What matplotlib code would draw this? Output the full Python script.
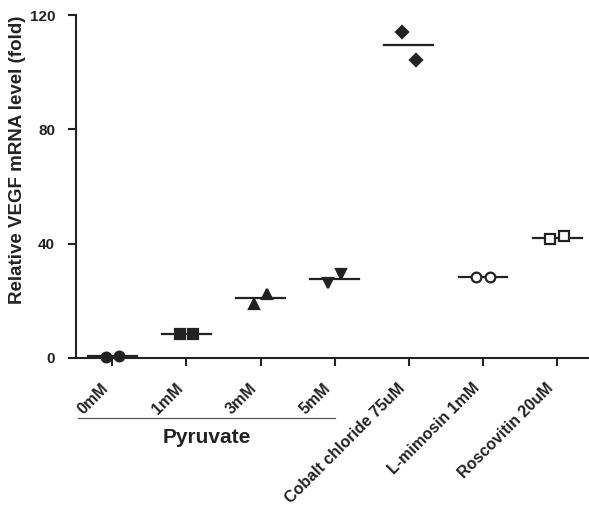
import matplotlib.pyplot as plt
import matplotlib.transforms as mtransforms
import numpy as np

plt.rcParams['font.family'] = ['Liberation Sans', 'DejaVu Sans']
plt.rcParams['font.weight'] = 'bold'

categories = ['0mM', '1mM', '3mM', '5mM', 'Cobalt chloride 75uM', 'L-mimosin 1mM', 'Roscovitin 20uM']
rep1 = [0.5, 8.4, 18.9, 26.2, 114.0, 28.3, 41.6]
rep2 = [0.7, 8.4, 22.4, 29.4, 104.2, 28.3, 42.7]
means = [0.6, 8.4, 21.0, 27.8, 109.4, 28.5, 42.0]
markers = ['o', 's', '^', 'v', 'D', 'o', 's']
filled = [True, True, True, True, True, False, False]

ink = '#222222'
fig = plt.figure(figsize=(5.89, 5.09), dpi=100)
ax = fig.add_axes([0.129, 0.2967, 0.871, 0.6738])

x = np.arange(len(categories))
sizes = {'o': 7, 's': 6.5, '^': 7, 'v': 7, 'D': 6}
for i in x:
    fc = ink if filled[i] else 'white'
    ax.plot([i - 0.33, i + 0.33], [means[i], means[i]], color=ink, lw=1.6, zorder=2, clip_on=False)
    ax.plot([i - 0.09, i + 0.09], [rep1[i], rep2[i]], linestyle='none', marker=markers[i],
            markersize=sizes[markers[i]], markerfacecolor=fc, markeredgecolor=ink,
            markeredgewidth=1.6, zorder=3, clip_on=False)

ax.set_xlim(-0.49, 6.43)
ax.set_ylim(0, 120)
ax.set_yticks([0, 40, 80, 120])
ax.set_xticks(x)
ax.set_xticklabels(categories, rotation=45, ha='right', va='center', rotation_mode='anchor', fontsize=11.5)
ax.tick_params(axis='both', colors=ink, width=1.5, length=6)
ax.tick_params(axis='y', pad=9, labelsize=11)
ax.tick_params(axis='x', pad=14)
# nudge rotated labels a little to the left, as in the original
shift = mtransforms.ScaledTranslation(-0.06, 0, fig.dpi_scale_trans)
for lab in ax.get_xticklabels():
    lab.set_transform(lab.get_transform() + shift)
for s in ['top', 'right']:
    ax.spines[s].set_visible(False)
for s in ['left', 'bottom']:
    ax.spines[s].set_linewidth(1.5)
    ax.spines[s].set_color(ink)

fig.text(18 / 589, 1 - 160 / 509, 'Relative VEGF mRNA level (fold)', rotation=90,
         ha='center', va='center', fontsize=13.5, color=ink, fontweight='bold')

# Pyruvate group bracket
trans = ax.get_xaxis_transform()
ax.plot([-0.46, 3.0], [-0.175, -0.175], transform=trans, color='#555555', lw=0.9, clip_on=False)
ax.text(1.27, -0.232, 'Pyruvate', transform=trans, ha='center', va='center',
        fontsize=15, fontweight='bold', color=ink)

fig.savefig('out.png', dpi=100)
